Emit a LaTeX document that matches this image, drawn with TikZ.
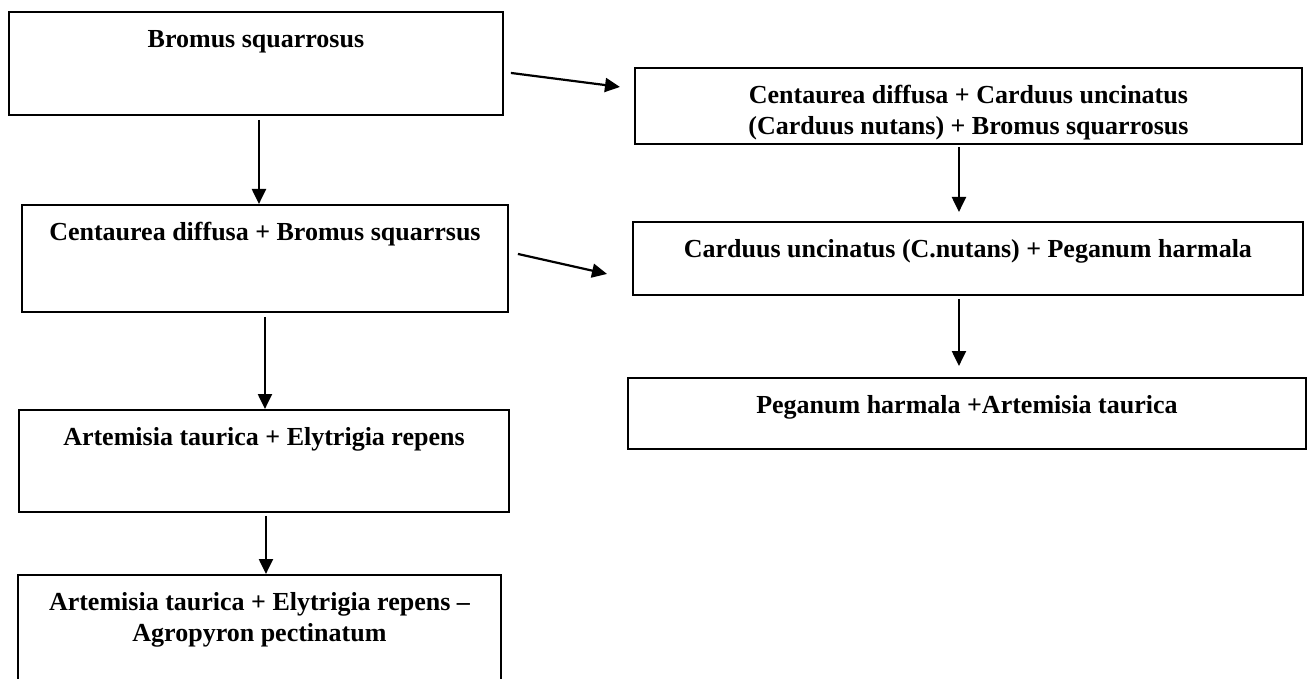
\documentclass[tikz,border=0pt]{standalone}
\usepackage{fontspec}
\setmainfont{Liberation Serif}
\usetikzlibrary{arrows.meta}
\tikzset{
	stagebox/.style={draw, line width=1.9pt, anchor=north west, align=center,
		inner xsep=0pt, inner ysep=0pt, text height=36pt,
		font=\bfseries\fontsize{26}{31}\selectfont}
}
\tikzset{
	succarrow/.style={-{Triangle[length=15pt,width=14pt]}, line width=2.2pt}
}

\begin{document}
\begin{tikzpicture}[x=1pt, y=-1pt]
      \clip (0,0) rectangle (1309,679);
      % left column
      \node[stagebox, minimum width=494pt, text depth=67pt] (bromus) at (8,11) {Bromus squarrosus};
      \node[stagebox, minimum width=486pt, text depth=71pt] (centbrom) at (21,204) {Centaurea diffusa + Bromus squarrsus};
      \node[stagebox, minimum width=490pt, text depth=66pt] (artely) at (18,409) {Artemisia taurica + Elytrigia repens};
      \node[stagebox, minimum width=483pt, text height=67pt, text depth=59pt] (artagro) at (17,574) {Artemisia taurica + Elytrigia repens --\\Agropyron pectinatum};
      % right column
      \node[stagebox, minimum width=667pt, text height=67pt, text depth=9pt] (centcard) at (634,67) {Centaurea diffusa + Carduus uncinatus\\(Carduus nutans) + Bromus squarrosus};
      \node[stagebox, minimum width=670pt, text depth=37pt] (cardpeg) at (632,221) {Carduus uncinatus (C.nutans) + Peganum harmala};
      \node[stagebox, minimum width=678pt, text depth=35pt] (pegart) at (627,377) {Peganum harmala +Artemisia taurica};
      % arrows down the left column
      \draw[succarrow] ([xshift=3pt,yshift=-4pt]bromus.south) -- ([xshift=3pt]bromus.south |- centbrom.north);
      \draw[succarrow] ([yshift=-4pt]centbrom.south) -- (centbrom.south |- artely.north);
      \draw[succarrow] ([xshift=2pt,yshift=-3pt]artely.south) -- ([xshift=2pt]artely.south |- artagro.north);
      % arrows across
      \draw[succarrow] ([xshift=7pt,yshift=-9.5pt]bromus.east) -- ([xshift=-14pt,yshift=19pt]centcard.west);
      \draw[succarrow] ([xshift=9pt,yshift=4.5pt]centbrom.east) -- ([xshift=-25pt,yshift=-15.5pt]cardpeg.west);
      % arrows down the right column
      \draw[succarrow] ([xshift=-9.5pt,yshift=-2pt]centcard.south) -- ([xshift=-9.5pt,yshift=9pt]centcard.south |- cardpeg.north);
      \draw[succarrow] ([xshift=-9pt,yshift=-3pt]cardpeg.south) -- ([xshift=-9pt,yshift=11pt]cardpeg.south |- pegart.north);
\end{tikzpicture}
\end{document}
